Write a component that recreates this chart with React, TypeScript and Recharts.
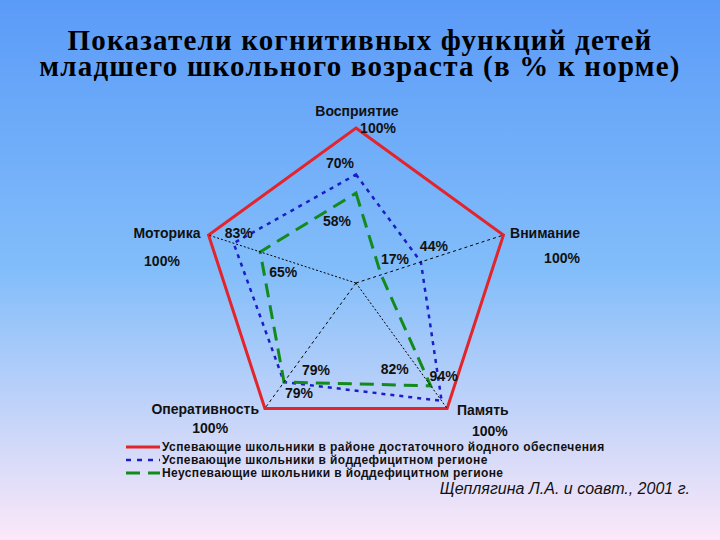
import React from 'react'
import {
  RadarChart,
  Radar,
  PolarGrid,
  PolarAngleAxis,
  PolarRadiusAxis,
  LabelList,
  Legend
} from 'recharts'

const categories = ['Восприятие', 'Внимание', 'Память', 'Оперативность', 'Моторика']
const normValues = [100, 100, 100, 100, 100]
const goodDeficitValues = [70, 44, 94, 79, 83]
const poorDeficitValues = [58, 17, 82, 79, 65]

const seriesNames = [
  'Успевающие школьники в районе достаточного йодного обеспечения',
  'Успевающие школьники в йоддефицитном регионе',
  'Неуспевающие школьники в йоддефицитном регионе'
]

const data = categories.map((name, i) => ({
  name,
  norm: normValues[i],
  good: goodDeficitValues[i],
  poor: poorDeficitValues[i]
}))

const RED = '#e3242b'
const BLUE = '#1c1cc8'
const GREEN = '#138a1c'
const labelFont = '"Liberation Sans", Arial, sans-serif'
const CX = 356
const CY = 283
const R = 155

// offsets of axis names and the 100% labels from the tick point
const nameOffset = [[1, -9], [34, 0], [31, -5], [-55, -6], [-34, 0]]
const normOffset = [[22, 8], [51, 25], [38, 16], [-50, 13], [-39, 28]]
const goodOffset = [[-16, -12], [13, -16], [2, -25], [15, 11], [5, -10]]
const poorOffset = [[-19, 28], [14, -16], [-36, -17], [32, -12], [23, 20]]
// the original has no spoke to the top axis
const spokeDash = [null, '3 3', '2 2', '3 3', '2 2']

function AxisTick(props: any) {
  const { x, y, payload, index } = props
  const i = index ?? categories.indexOf(payload.value)
  const cx = props.cx ?? CX
  const cy = props.cy ?? CY
  const [nx, ny] = nameOffset[i]
  const [vx, vy] = normOffset[i]
  // tick point sits 8px outside the vertex
  const len = Math.hypot(x - cx, y - cy)
  const k = (len - 8) / len
  return (
    <g>
      {spokeDash[i] && (
        <line
          x1={cx}
          y1={cy}
          x2={cx + (x - cx) * k}
          y2={cy + (y - cy) * k}
          stroke="#000"
          strokeWidth={1}
          strokeDasharray={spokeDash[i] as string}
        />
      )}
      <g fontFamily={labelFont} fontWeight="bold" fontSize={14} fill="#111">
        <text x={x + nx} y={y + ny} textAnchor="middle" dominantBaseline="central">
          {payload.value}
        </text>
        <text x={x + vx} y={y + vy} textAnchor="middle" dominantBaseline="central">
          {normValues[i]}%
        </text>
      </g>
    </g>
  )
}

function makeLabel(offsets: number[][]) {
  return (props: any) => {
    const { x, y, value, index } = props
    const [dx, dy] = offsets[index]
    return (
      <text
        x={x + dx}
        y={y + dy}
        textAnchor="middle"
        dominantBaseline="central"
        fontFamily={labelFont}
        fontWeight="bold"
        fontSize={14}
        fill="#111"
      >
        {value}%
      </text>
    )
  }
}

function LegendBox() {
  const rows = [
    { color: RED, dash: undefined, width: 3 },
    { color: BLUE, dash: '5 6', width: 2.5 },
    { color: GREEN, dash: '14 8', width: 3 }
  ]
  return (
    <div
      style={{
        fontFamily: labelFont,
        fontWeight: 'bold',
        fontSize: 12,
        letterSpacing: 0.4,
        color: '#111'
      }}
    >
      {rows.map((r, i) => (
        <div key={i} style={{ display: 'flex', alignItems: 'center', height: 13 }}>
          <svg width={36} height={8}>
            <line x1={0} y1={4} x2={34} y2={4} stroke={r.color} strokeWidth={r.width} strokeDasharray={r.dash} />
          </svg>
          <span style={{ whiteSpace: 'nowrap' }}>{seriesNames[i]}</span>
        </div>
      ))}
    </div>
  )
}

export default function App() {
  return (
    <div
      style={{
        position: 'absolute',
        left: 0,
        top: 0,
        width: 720,
        height: 540,
        overflow: 'hidden',
        background: 'linear-gradient(to bottom, #5b9bf8 0%, #82bdfa 50%, #fce8f8 100%)'
      }}
    >
      <div
        style={{
          position: 'absolute',
          top: 27,
          left: 0,
          width: 720,
          textAlign: 'center',
          fontFamily: '"Liberation Serif", "Times New Roman", serif',
          fontWeight: 'bold',
          fontSize: 29,
          letterSpacing: 1.2,
          lineHeight: '26px',
          color: '#000'
        }}
      >
        Показатели когнитивных функций детей
        <br />
        младшего школьного возраста (в % к норме)
      </div>
      <div style={{ position: 'absolute', top: 0, left: 0 }}>
        <RadarChart width={720} height={540} data={data} cx={CX} cy={CY} outerRadius={R}>
          <PolarGrid polarRadius={[R]} radialLines={false} stroke="#000" />
          <PolarAngleAxis dataKey="name" tick={<AxisTick />} tickLine={false} axisLine={false} />
          <PolarRadiusAxis domain={[0, 100]} tick={false} axisLine={false} />
          <Radar
            name={seriesNames[0]}
            dataKey="norm"
            stroke={RED}
            strokeWidth={3}
            fill="none"
            fillOpacity={0}
            isAnimationActive={false}
          />
          <Radar
            name={seriesNames[1]}
            dataKey="good"
            stroke={BLUE}
            strokeWidth={2.5}
            strokeDasharray="4 5"
            fill="none"
            fillOpacity={0}
            isAnimationActive={false}
          >
            <LabelList dataKey="good" content={makeLabel(goodOffset)} />
          </Radar>
          <Radar
            name={seriesNames[2]}
            dataKey="poor"
            stroke={GREEN}
            strokeWidth={3}
            strokeDasharray="14 8"
            fill="none"
            fillOpacity={0}
            isAnimationActive={false}
          >
            <LabelList dataKey="poor" content={makeLabel(poorOffset)} />
          </Radar>
          <Legend
            content={<LegendBox />}
            wrapperStyle={{ position: 'absolute', left: 126, top: 440, width: 580 }}
          />
        </RadarChart>
      </div>
      <div
        style={{
          position: 'absolute',
          top: 480,
          right: 30,
          fontFamily: labelFont,
          fontStyle: 'italic',
          fontSize: 16,
          color: '#111'
        }}
      >
        Щеплягина Л.А. и соавт., 2001 г.
      </div>
    </div>
  )
}
